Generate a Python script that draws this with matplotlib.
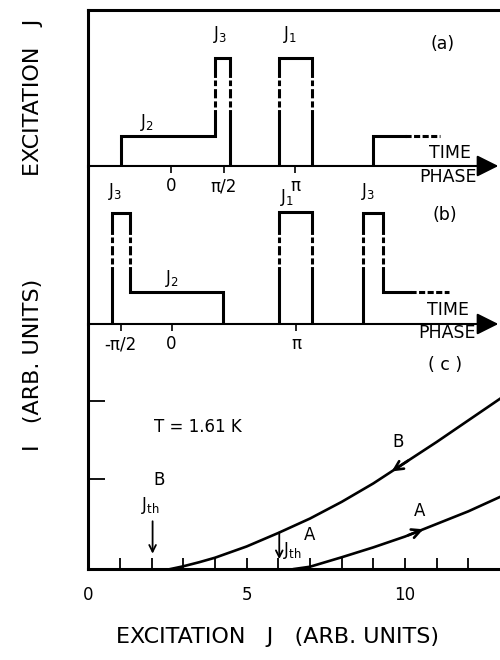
import numpy as np
import matplotlib.pyplot as plt

# pulse trains, x in the same units as panel (c), y = fraction of panel height
a_x = [[1.02, 1.02, 4.0, 4.0, 4.47, 4.47], [6.02, 6.02, 7.05, 7.05], [8.99, 8.99, 10.0]]
a_y = [[0, 0.19, 0.19, 0.69, 0.69, 0], [0, 0.69, 0.69, 0], [0, 0.19, 0.19]]
a_tail = [10.0, 11.1]
b_x = [[0.76, 0.76, 1.32, 1.32, 4.24, 4.24], [6.02, 6.02, 7.07, 7.07], [8.68, 8.68, 9.3, 9.3, 10.15]]
b_y = [[0, 0.70, 0.70, 0.20, 0.20, 0], [0, 0.71, 0.71, 0], [0, 0.70, 0.70, 0.20, 0.20]]
b_tail = [10.15, 11.4]

a_phase_pos = [2.6, 4.28, 6.53]
a_phase_lab = ['0', 'π/2', 'π']
b_phase_pos = [1.02, 2.63, 6.56]
b_phase_lab = ['-π/2', '0', 'π']

# panel (c) curves
jB = [2.6, 3.0, 3.5, 4.0, 5.0, 6.0, 7.0, 8.0, 9.0, 10.0, 11.0, 12.0, 13.0]
iB = [0.0, 0.03, 0.075, 0.125, 0.25, 0.40, 0.56, 0.745, 0.95, 1.18, 1.41, 1.65, 1.89]
jA = [6.5, 7.0, 8.0, 9.0, 10.0, 11.0, 12.0, 13.0]
iA = [0.0, 0.025, 0.13, 0.24, 0.36, 0.50, 0.64, 0.80]
jth_B = 2.03
jth_A = 6.03

LW = 2.2
fig = plt.figure(figsize=(5, 6.6), dpi=100)
ax_c = fig.add_axes([0.1766, 0.1379, 0.8234, 0.3712])
ax_b = fig.add_axes([0.1766, 0.5091, 0.8234, 0.2394])
ax_a = fig.add_axes([0.1766, 0.7485, 0.8234, 0.2364])
for ax in (ax_a, ax_b, ax_c):
    ax.patch.set_visible(False)


def draw_wave(ax, xs_list, ys_list, tail, level, lo=0.38, hi=0.55):
    for xs, ys in zip(xs_list, ys_list):
        ax.plot(xs, ys, color='k', lw=LW, solid_joinstyle='miter')
        for i in range(len(xs) - 1):
            if xs[i] == xs[i + 1] and max(ys[i], ys[i + 1]) > hi:
                ax.plot([xs[i], xs[i]], [lo, hi], color='w', lw=LW + 1.5)
                ax.plot([xs[i], xs[i]], [lo, hi], color='k', lw=LW,
                        linestyle=(1.0, (3, 1.0)))
    ax.plot(tail, [level, level], color='k', lw=LW, linestyle=(0, (2, 0.8)))


for ax in (ax_a, ax_b):
    ax.set_xlim(0, 13)
    ax.set_ylim(0, 1)
    for s in ('right', 'bottom', 'top'):
        ax.spines[s].set_visible(False)
    ax.spines['left'].set_linewidth(LW)
    ax.set_yticks([])
    ax.annotate('', xy=(0.996, 0), xytext=(0, 0), xycoords='axes fraction',
                arrowprops=dict(arrowstyle='-|>,head_length=0.6,head_width=0.3',
                                color='k', lw=1.5, mutation_scale=22,
                                shrinkA=0, shrinkB=0), annotation_clip=False)
    ax.tick_params(axis='x', direction='out', length=5, width=1.2, labelsize=12, pad=3)

ax_a.spines['top'].set_visible(True)
ax_a.spines['top'].set_linewidth(LW)

draw_wave(ax_a, a_x, a_y, a_tail, 0.19)
draw_wave(ax_b, b_x, b_y, b_tail, 0.20)

ax_a.set_xticks(a_phase_pos, a_phase_lab)
ax_b.set_xticks(b_phase_pos, b_phase_lab)

lab = dict(fontsize=12, ha='center', va='center')
big = dict(fontsize=12.5, ha='center', va='center')
ax_a.text(4.16, 0.84, r'J$_\mathregular{3}$', **lab)
ax_a.text(6.37, 0.84, r'J$_\mathregular{1}$', **lab)
ax_a.text(1.85, 0.28, r'J$_\mathregular{2}$', **lab)
ax_a.text(11.2, 0.78, '(a)', **big)
ax_a.text(11.42, 0.085, 'TIME', **big)
ax_a.text(11.35, -0.07, 'PHASE', clip_on=False, **big)

ax_b.text(0.84, 0.84, r'J$_\mathregular{3}$', **lab)
ax_b.text(2.64, 0.29, r'J$_\mathregular{2}$', **lab)
ax_b.text(6.27, 0.80, r'J$_\mathregular{1}$', **lab)
ax_b.text(8.83, 0.84, r'J$_\mathregular{3}$', **lab)
ax_b.text(11.26, 0.69, '(b)', **big)
ax_b.text(11.35, 0.09, 'TIME', **big)
ax_b.text(11.32, -0.057, 'PHASE', clip_on=False, **big)

# panel (c)
ax_c.set_xlim(0, 13)
ax_c.set_ylim(0, 2.72)
for s in ('right', 'top'):
    ax_c.spines[s].set_visible(False)
ax_c.spines['left'].set_linewidth(LW)
ax_c.spines['bottom'].set_linewidth(LW)
ax_c.set_xticks([0, 5, 10])
ax_c.set_xticks(np.arange(0, 13), minor=True)
ax_c.set_yticks([1.0, 1.87], ['', ''])
ax_c.tick_params(axis='x', which='both', direction='in', length=8, width=1.3,
                 labelsize=12, pad=12)
ax_c.tick_params(axis='y', direction='in', length=12, width=1.3)

ax_c.plot(jB, iB, color='k', lw=1.9, clip_on=False)
ax_c.plot(jA, iA, color='k', lw=1.9, clip_on=False)

for jj, ii, tip, tail in ((jB, iB, 9.58, 10.1), (jA, iA, 10.58, 10.1)):
    ax_c.annotate('', xy=(tip, np.interp(tip, jj, ii)),
                  xytext=(tail, np.interp(tail, jj, ii)),
                  arrowprops=dict(arrowstyle='->', color='k', lw=1.9, mutation_scale=16,
                                  shrinkA=0, shrinkB=0))

ax_c.annotate('', xy=(jth_B, 0.17), xytext=(jth_B, 0.53),
              arrowprops=dict(arrowstyle='->', color='k', lw=1.3, mutation_scale=12,
                              shrinkA=0, shrinkB=0))
ax_c.annotate('', xy=(jth_A, 0.11), xytext=(jth_A, np.interp(jth_A, jB, iB)),
              arrowprops=dict(arrowstyle='->', color='k', lw=1.3, mutation_scale=12,
                              shrinkA=0, shrinkB=0))

ax_c.text(2.23, 0.99, 'B', **lab)
ax_c.text(1.95, 0.71, r'J$_\mathregular{th}$', **lab)
ax_c.text(6.15, 0.21, r'J$_\mathregular{th}$', fontsize=12, ha='left', va='center')
ax_c.text(7.0, 0.38, 'A', **lab)
ax_c.text(9.77, 1.41, 'B', **lab)
ax_c.text(10.47, 0.64, 'A', **lab)
ax_c.text(3.46, 1.58, 'T = 1.61 K', **lab)
ax_c.text(11.26, 2.27, '( c )', **big)

fig.text(0.066, 0.852, 'EXCITATION   J', rotation=90, fontsize=16, ha='center', va='center')
fig.text(0.066, 0.447, 'I   (ARB. UNITS)', rotation=90, fontsize=16, ha='center', va='center')
fig.text(0.554, 0.035, 'EXCITATION   J   (ARB. UNITS)', fontsize=16, ha='center', va='center')

fig.savefig('out.png', dpi=100)
